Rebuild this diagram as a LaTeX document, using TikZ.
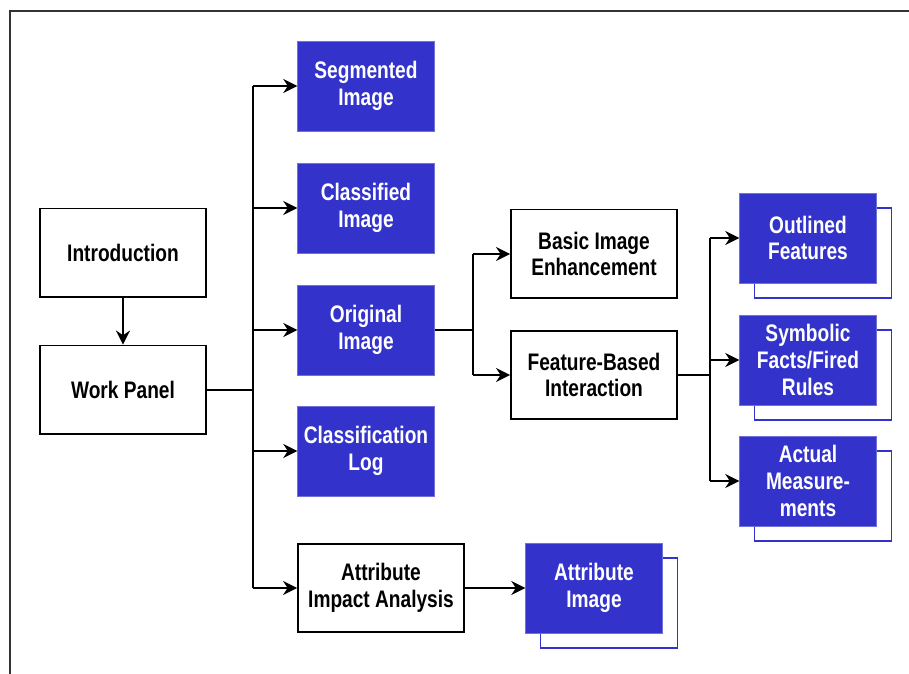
\documentclass[tikz,border=0pt]{standalone}
\usepackage{fontspec}
\setmainfont{Liberation Sans}[FakeStretch=0.8]
\usepackage{tikz}
\usetikzlibrary{arrows.meta, positioning, shadows}
\usepackage{xcolor}
\definecolor{panelblue}{RGB}{51,51,204}

\begin{document}
\begin{tikzpicture}[x=0.025cm, y=-0.025cm,
  plain/.style={rectangle, draw=black, line width=1.3pt, fill=white,
                minimum width=4.15cm, minimum height=2.22cm,
                font=\fontsize{17}{19}\selectfont\bfseries, align=center},
  view/.style={rectangle, draw=panelblue!70, fill=panelblue, text=white,
               minimum width=3.42cm, minimum height=2.25cm,
               font=\fontsize{17}{19}\selectfont\bfseries, align=center},
  stacked/.style={view, copy shadow={shadow xshift=0.375cm, shadow yshift=-0.375cm,
               fill=white, draw=panelblue, line width=1.1pt}},
  arrow/.style={-{Stealth[length=10pt, width=10pt]}, line width=1.3pt},
  link/.style={line width=1.3pt}
]
  \useasboundingbox (0,0) rectangle (909,674);
  \draw[line width=1.5pt, black!80] (10,674) -- (10,11) -- (909,11);

  \node[plain] (intro) at (123,253) {Introduction};
  \node[plain] (work)  at (123,390) {Work Panel};

  \node[view] (seg)   at (366,86)  {Segmented\\Image};
  \node[view] (cls)   at (366,208) {Classified\\Image};
  \node[view] (orig)  at (366,330) {Original\\Image};
  \node[view] (log)   at (366,451) {Classification\\Log};
  \node[plain] (impact) at (381,588) {Attribute\\Impact Analysis};
  \node[stacked] (attr) at (594,588) {Attribute\\Image};

  \node[plain] (basic) at (594,254) {Basic Image\\Enhancement};
  \node[plain, minimum height=2.2cm] (feat) at (594,375) {Feature-Based\\Interaction};

  \node[stacked] (outl) at (808,238) {Outlined\\Features};
  \node[stacked] (symb) at (808,360) {Symbolic\\Facts/Fired\\Rules};
  \node[stacked] (meas) at (808,481) {Actual\\Measure-\\ments};

  \coordinate (trunk) at (253,390);
  \coordinate (fork)  at (473,330);
  \coordinate (split) at (710,375);

  \draw[arrow] (intro) -- (work);
  \draw[link] (work) -- (trunk);
  \draw[link] (trunk |- seg) -- (trunk |- impact);
  \draw[arrow] (trunk |- seg) -- (seg);
  \draw[arrow] (trunk |- cls) -- (cls);
  \draw[arrow] (trunk |- orig) -- (orig);
  \draw[arrow] (trunk |- log) -- (log);
  \draw[arrow] (trunk |- impact) -- (impact);
  \draw[arrow] (impact) -- (attr);

  \draw[link] (orig) -- (fork);
  \draw[link] (fork |- basic) -- (fork |- feat);
  \draw[arrow] (fork |- basic) -- (basic);
  \draw[arrow] (fork |- feat) -- (feat);

  \draw[link] (feat) -- (split);
  \draw[link] (split |- outl) -- (split |- meas);
  \draw[arrow] (split |- outl) -- (outl);
  \draw[arrow] (split |- symb) -- (symb);
  \draw[arrow] (split |- meas) -- (meas);
\end{tikzpicture}
\end{document}
